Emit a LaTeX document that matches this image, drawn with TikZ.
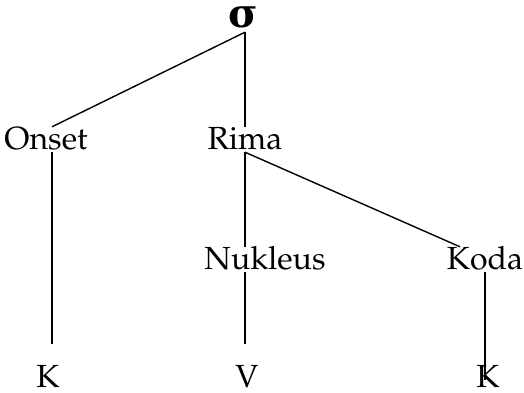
\documentclass[tikz,border=0pt]{standalone}
\usepackage[T1]{fontenc}
\usepackage{fontspec}
\newfontfamily\sigmafont{DejaVu Serif}
\usetikzlibrary{calc}

\begin{document}
\begin{tikzpicture}[
  x=1pt,y=-1pt,
  lbl/.style={anchor=base,inner sep=1pt,text height=21pt,text depth=2pt,
              font=\fontencoding{T1}\fontfamily{ppl}\fontsize{32}{38}\selectfont},
  root/.style={anchor=base,inner sep=1pt,text depth=3pt,
               font=\sigmafont\bfseries\fontsize{40}{46}\selectfont},
  branch/.style={line width=1.4pt},
]
\useasboundingbox (0,0) rectangle (524,393);
% syllable
\node[root] (sigma) at (243,28) {σ};
% first level
\node[lbl] (onset) at (46,149) {Onset};
\node[lbl] (rima) at (245,149) {Rima};
% second level
\node[lbl] (nukleus) at (265,269) {Nukleus};
\node[lbl] (koda) at (485,269) {Koda};
% segments
\node[lbl] (konset) at (48,387) {K};
\node[lbl] (vnuk) at (247,387) {V};
\node[lbl] (kkoda) at (488,387) {K};
% branches
\draw[branch] ([xshift=2pt]sigma.south) -- ([xshift=6pt]onset.north);
\draw[branch] ([xshift=2pt]sigma.south) -- (rima.north);
\draw[branch] ([xshift=6pt]onset.south) -- ([xshift=4pt,yshift=21pt]konset.north);
\draw[branch] (rima.south) -- (rima.south |- nukleus.north);
\draw[branch] (rima.south) -- ([xshift=-25pt]koda.north);
\draw[branch] (rima.south |- nukleus.south) -- ([xshift=-2pt,yshift=21pt]vnuk.north);
\draw[branch] (koda.south) -- ([xshift=-3pt,yshift=-15pt]kkoda.north);
\end{tikzpicture}
\end{document}
